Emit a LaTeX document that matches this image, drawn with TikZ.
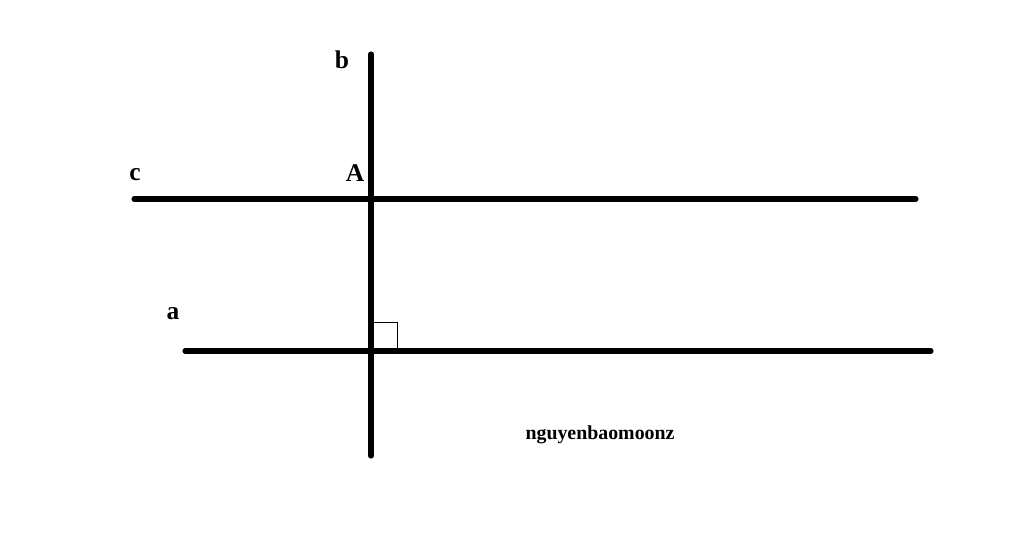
\documentclass[tikz,border=0pt]{standalone}
\usepackage{fontspec}
\setmainfont{Liberation Serif}
\usepackage{tikz}
\usetikzlibrary{positioning}
\tikzset{thick line/.style = {line width=2.9pt, line cap=round},
         lbl/.style = {font=\bfseries\fontsize{14.5}{16}\selectfont, inner sep=0pt}}

\begin{document}
\begin{tikzpicture}[x=0.02cm, y=-0.02cm]
    \useasboundingbox (0, 0) rectangle (1024, 539);

    \coordinate (bT) at (371, 54);
    \coordinate (bB) at (371, 456);
    \coordinate (cL) at (134, 199);
    \coordinate (cR) at (916, 199);
    \coordinate (aL) at (185, 351);
    \coordinate (aR) at (931, 351);
    \coordinate (A) at (371, 199);
    \coordinate (H) at (371, 351);

    \draw [thick line] (bT) -- (bB);
    \draw [thick line] (cL) -- (cR);
    \draw [thick line] (aL) -- (aR);
    \fill (A) circle (3.5);

    % right angle at H
    \draw [line width=0.5pt] (H) ++(0, -29) -- ++(26, 0) -- ++(0, 29);

    \node [lbl] (lb) at (342, 60) {b};
    \node [lbl] (lc) at (135, 175) {c};
    \node [lbl] (lA) at (355, 173) {A};
    \node [lbl] (la) at (173, 314) {a};
    \node [font=\bfseries\fontsize{11.3}{13}\selectfont] (wm) at (600, 435) {nguyenbaomoonz};
\end{tikzpicture}
\end{document}
